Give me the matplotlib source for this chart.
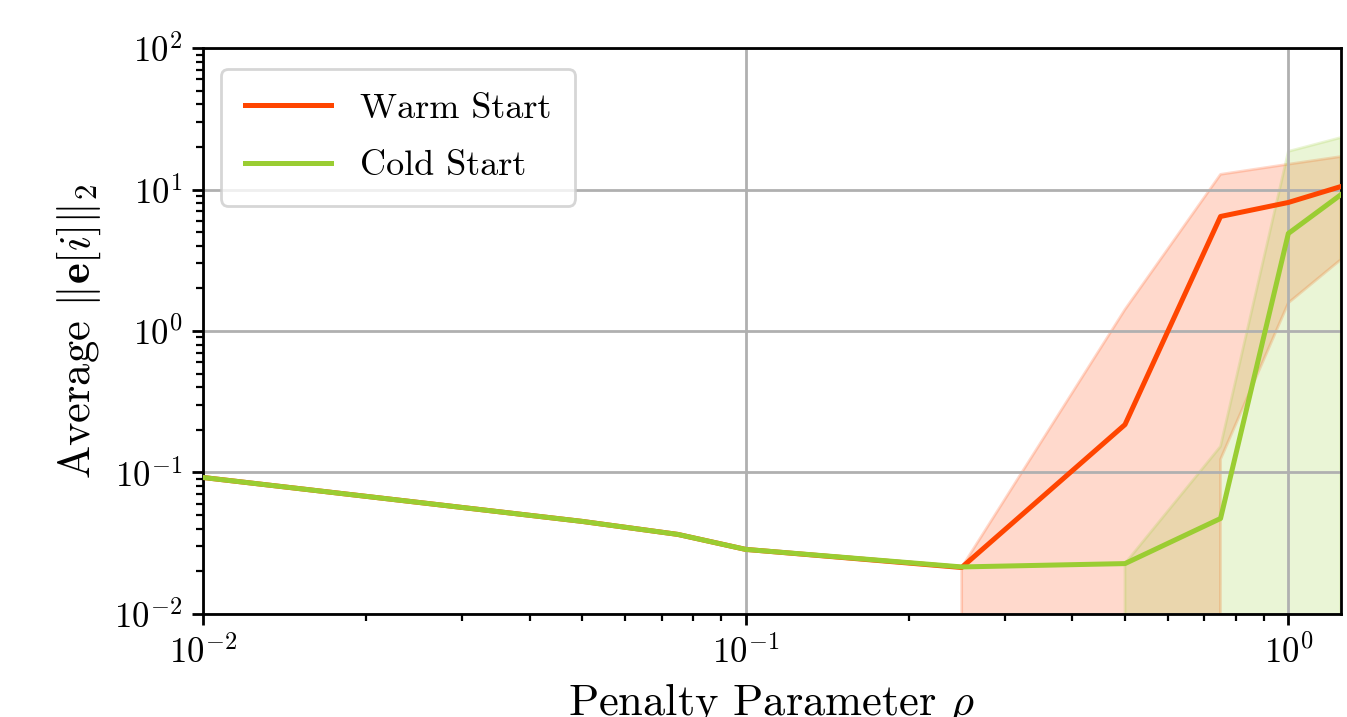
import matplotlib.pyplot as plt
import matplotlib as mpl

mpl.rc('font', family = 'serif', serif = ['cmr10'])
plt.rcParams["mathtext.fontset"] = "cm"
plt.rcParams["axes.formatter.use_mathtext"] = True
plt.rcParams["axes.unicode_minus"] = False

rho = [0.01, 0.025, 0.05, 0.075, 0.1, 0.25, 0.5, 0.75, 1.0, 1.25]

# mean and band edges (0 = below the axis)
warm_mean = [0.0922, 0.0614, 0.0451, 0.0365, 0.0286, 0.0213, 0.218, 6.45, 8.1, 10.5]
warm_upper = [0.0922, 0.0614, 0.0451, 0.0365, 0.0286, 0.0213, 1.42, 12.8, 15.1, 17.1]
warm_lower = [0.0922, 0.0614, 0.0451, 0.0365, 0.0286, 0.0213, 0.0, 0.124, 1.58, 3.2]

cold_mean = [0.0922, 0.0614, 0.0451, 0.0365, 0.0286, 0.0215, 0.0227, 0.0473, 4.89, 9.2]
cold_upper = [0.0922, 0.0614, 0.0451, 0.0365, 0.0286, 0.0215, 0.0227, 0.153, 18.6, 23.3]
cold_lower = [0.0922, 0.0614, 0.0451, 0.0365, 0.0286, 0.0215, 0.0227, 0.0, 0.0, 0.0]

def plot():
	fig, ax = plt.subplots(figsize = (6.735, 3.585), dpi = 200)
	fig.subplots_adjust(left = 0.1507, right = 0.9955, top = 0.933, bottom = 0.1437)

	ax.plot(rho, warm_mean, color = "orangered", linewidth = 1.8, label = "Warm Start", zorder = 3)
	ax.fill_between(rho, warm_lower, warm_upper, color = "orangered", alpha = 0.2)
	ax.plot(rho, cold_mean, color = "yellowgreen", linewidth = 1.8, label = "Cold Start", zorder = 3)
	ax.fill_between(rho, cold_lower, cold_upper, color = "yellowgreen", alpha = 0.2)

	ax.set_xscale("log")
	ax.set_yscale("log")
	ax.set_xlim(0.01, 1.25)
	ax.set_ylim(0.01, 100)
	ax.grid(True, which = "major", color = "#b0b0b0", linewidth = 1.0)
	for s in ax.spines.values():
		s.set_linewidth(1.0)
	ax.tick_params(which = "major", length = 4, width = 1.0, labelsize = 12.5)
	ax.tick_params(which = "minor", length = 2.5, width = 0.8)

	ax.set_xlabel(r"Penalty Parameter $\rho$", fontsize = 16)
	ax.set_ylabel(r"Average $\|\mathbf{e}[i]\|_2$", fontsize = 16)
	ax.legend(loc = "upper left", fontsize = 13, handlelength = 2.4, labelspacing = 0.7, borderpad = 0.65,
		bbox_to_anchor = (0.0, 0.995))
	fig.savefig("out.png", dpi = 200)

if __name__ == '__main__':
	plot()
